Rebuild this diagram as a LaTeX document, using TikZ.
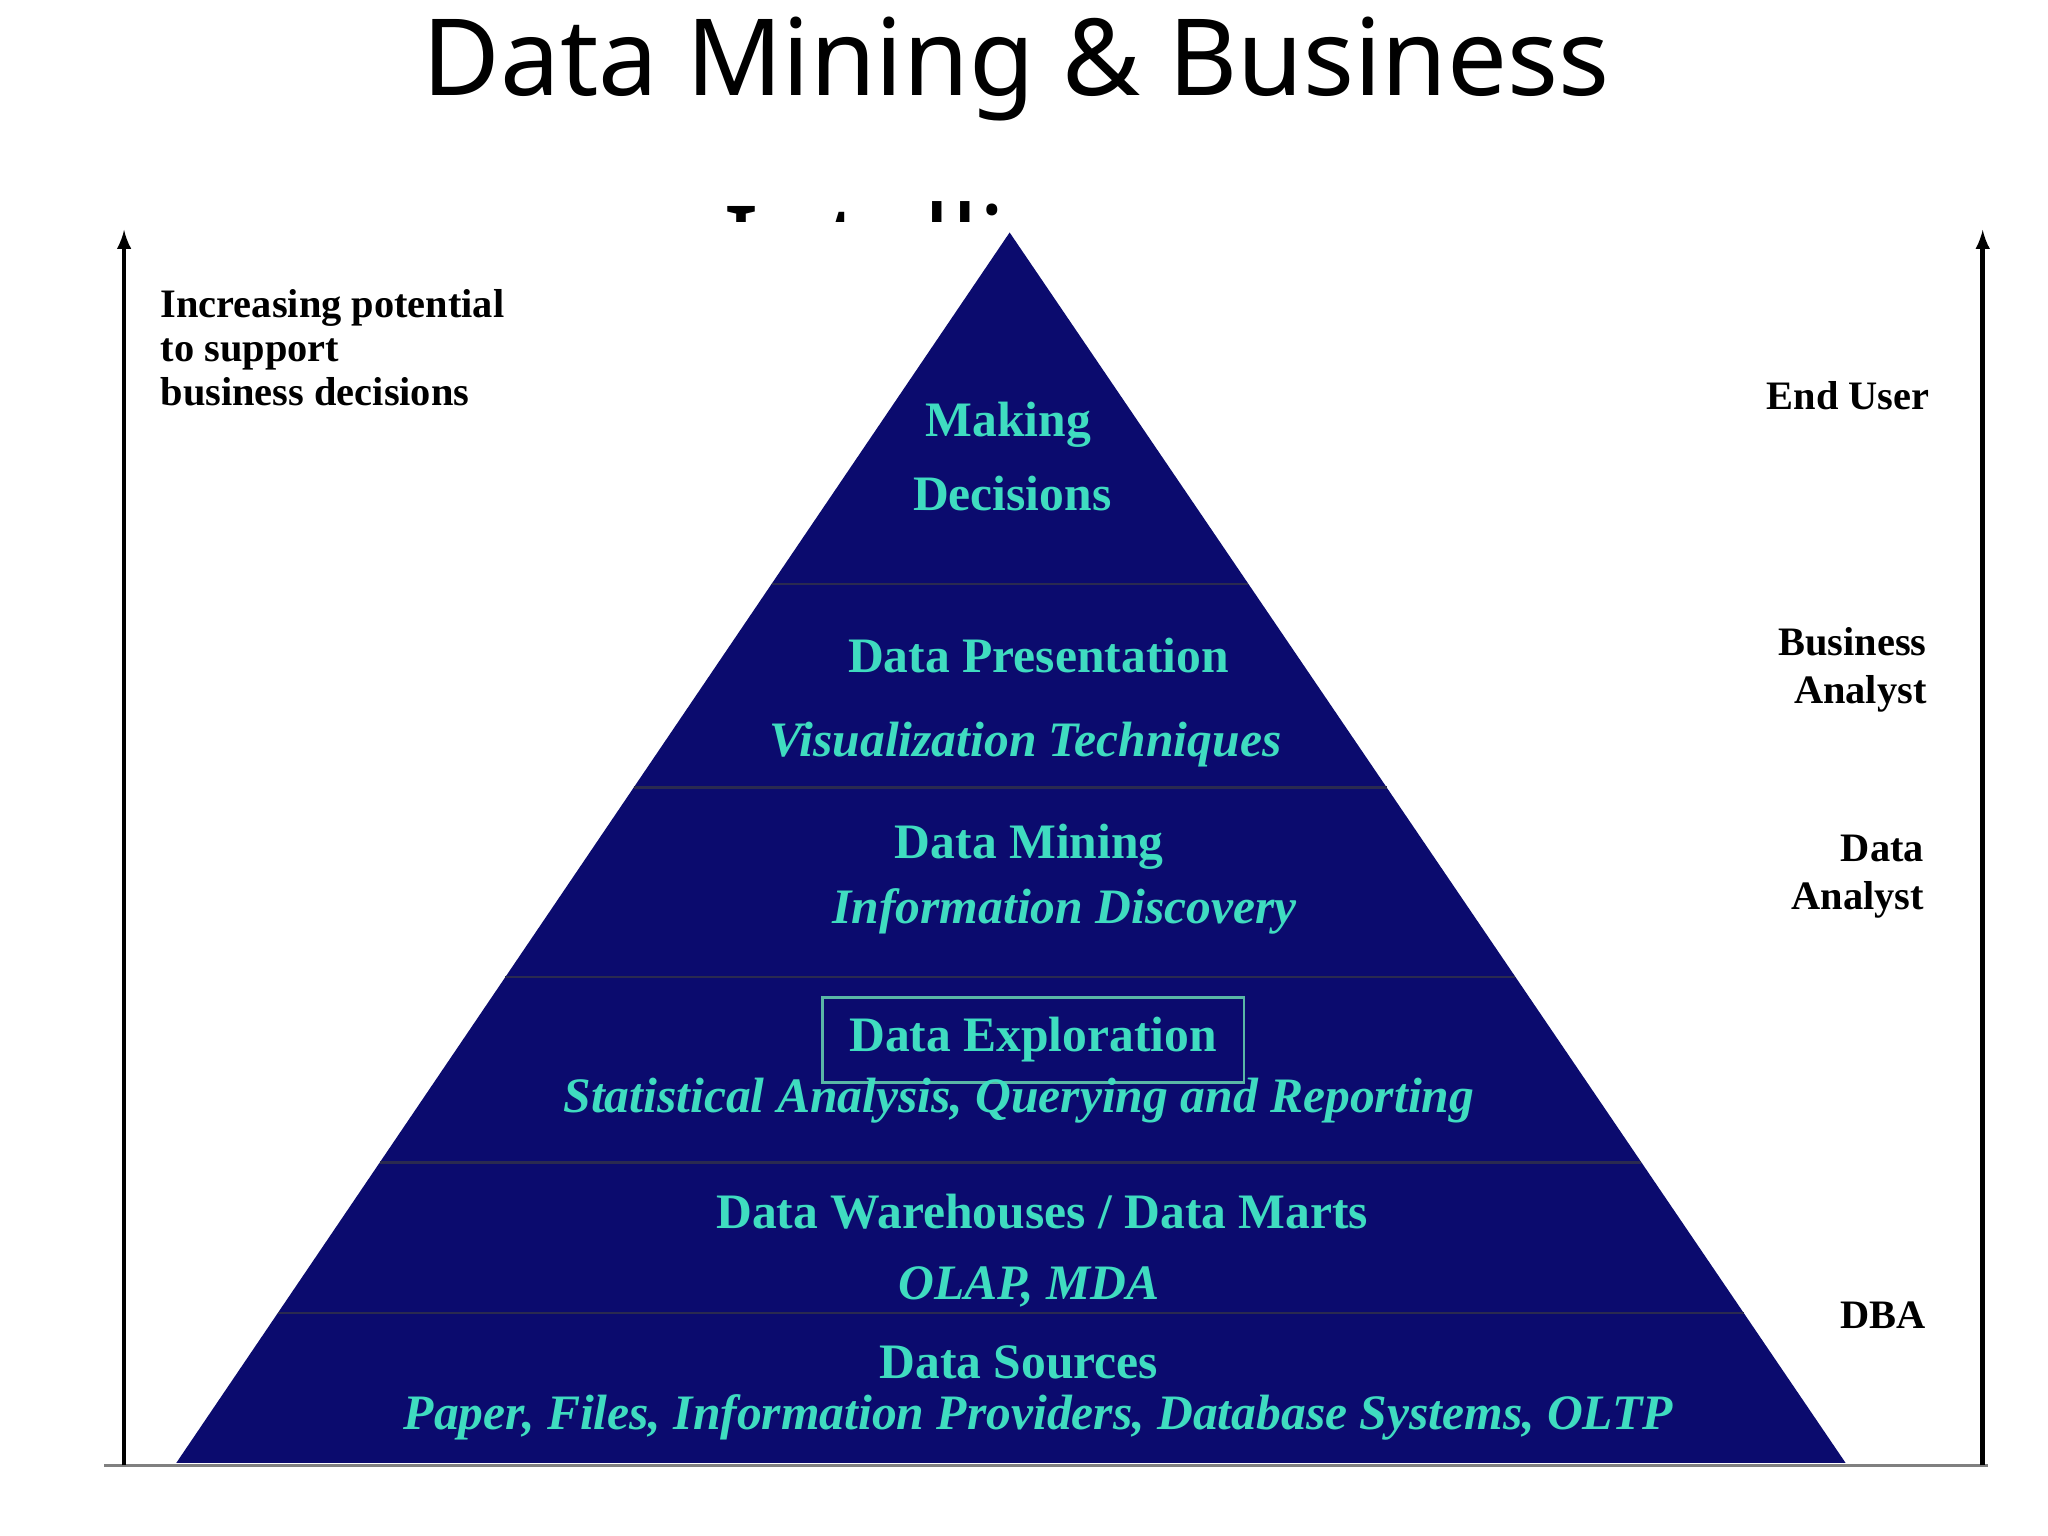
\documentclass[tikz,border=0pt]{standalone}
\usepackage{fontspec}
\setmainfont{Liberation Serif}
\newfontfamily\titlefont{Noto Sans}
\begin{document}
\begin{tikzpicture}[x=0.025cm,y=-0.025cm,
  cy/.style={text=cyanish,font=\fontsize{27}{30}\selectfont\bfseries},
  cyi/.style={text=cyanish,font=\fontsize{27}{30}\selectfont\bfseries\itshape},
  bl/.style={text=black,font=\fontsize{22}{26}\selectfont\bfseries},
  sep/.style={draw=sepcol,line width=1.2pt}]
\definecolor{navy}{HTML}{0B0B6E}
\definecolor{cyanish}{HTML}{3FDCC0}
\definecolor{sepcol}{HTML}{2A2A50}
\useasboundingbox (0,0) rectangle (1568,1176);
\fill[white] (0,0) rectangle (1568,1176);
\node[font=\titlefont\fontsize{58}{102}\selectfont,align=center,anchor=north] (title) at (778,8) {Data Mining \& Business\\Intelligence};
\fill[white] (60,170) rectangle (1540,1140);
% pyramid
\coordinate (apex) at (773,178);
\coordinate (bl) at (135,1120);
\coordinate (br) at (1413,1120);
\fill[navy] (apex) -- (br) -- (bl) -- cycle;
\foreach \y in {447,603,748,890,1005}{
  \pgfmathsetmacro\xl{773-(\y-178)/942*638}
  \pgfmathsetmacro\xr{773+(\y-178)/942*640}
  \draw[sep] (\xl,\y) -- (\xr,\y);
}
\node[cy] (m1) at (772,325) {Making};
\node[cy] (m2) at (775,378) {Decisions};
\node[cy] (p1) at (795,502) {Data Presentation};
\node[cyi] (p2) at (785,570) {Visualization Techniques};
\node[cy] (d1) at (788,648) {Data Mining};
\node[cyi] (d2) at (815,698) {Information Discovery};
\node[cy,draw=cyanish!60!gray,line width=1.5pt,minimum width=323*0.025cm,inner sep=0pt,minimum height=65*0.025cm] (e1) at (791,796) {Data Exploration};
\node[cyi] (e2) at (780,843) {Statistical Analysis, Querying and Reporting};
\node[cy] (w1) at (798,928) {Data Warehouses / Data Marts};
\node[cyi] (w2) at (788,985) {OLAP, MDA};
\node[cy] (s1) at (780,1043) {Data Sources};
\node[cyi] (s2) at (795,1085) {Paper, Files, Information Providers, Database Systems, OLTP};
% axes
\coordinate (base0) at (80,1122);
\coordinate (base1) at (1522,1122);
\draw[gray,line width=1.5pt] (base0) -- (base1);
\coordinate (la0) at (95,1122);
\coordinate (la1) at (95,176);
\coordinate (ra0) at (1518,1122);
\coordinate (ra1) at (1518,176);
\draw[line width=2.5pt,-latex] (la0) -- (la1);
\draw[line width=2.5pt,-latex] (ra0) -- (ra1);
\node[bl,anchor=west,align=left] (inc) at (118,266) {Increasing potential\\[-2pt]to support\\[-2pt]business decisions};
\node[bl] (eu) at (1415,303) {End User};
\node[bl,anchor=east,align=right] (ba) at (1480,513) {Business\\Analyst};
\node[bl,anchor=east,align=right] (da) at (1478,671) {Data\\Analyst};
\node[bl] (dba) at (1442,1007) {DBA};
\end{tikzpicture}
\end{document}
